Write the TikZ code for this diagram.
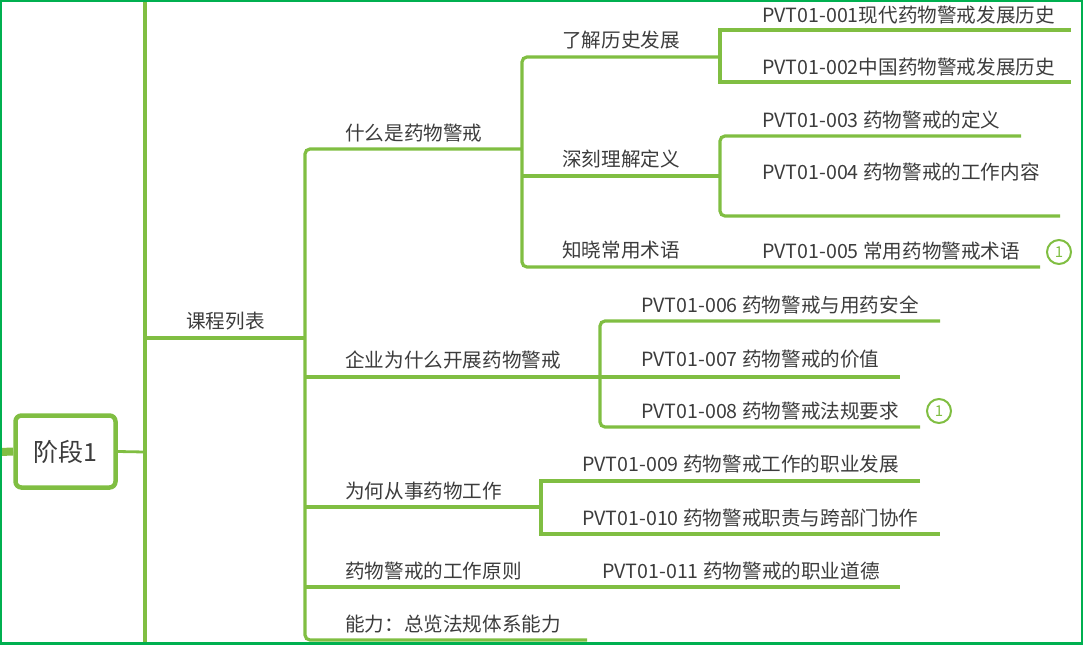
\documentclass[tikz,border=0pt]{standalone}
\usepackage{fontspec}
\setmainfont{Noto Sans CJK SC}
\definecolor{lg}{RGB}{128,190,66}
\definecolor{framec}{RGB}{0,176,80}
\definecolor{txt}{RGB}{60,60,60}
\begin{document}
\begin{tikzpicture}[x=1pt,y=-1pt,
  lbl/.style={anchor=base west, inner sep=0pt, text=txt, font=\fontsize{19.6}{23}\selectfont},
  conn/.style={draw=lg, line width=3.2pt, rounded corners=5pt},
  sq/.style={draw=lg, line width=3.2pt, rounded corners=0pt},
  badge/.style={circle, draw=lg, line width=2pt, minimum size=24pt, inner sep=0pt, text=lg, font=\fontsize{15}{15}\selectfont},
  rootbox/.style={draw=lg, line width=4.5pt, rounded corners=6pt, minimum width=100pt, minimum height=72pt, text=txt, font=\fontsize{25}{28}\selectfont, inner sep=0pt}]
\useasboundingbox (0,0) rectangle (1084,645);

% root
\node[rootbox] (root) at (65.5,451.5) {阶段1};
\coordinate (stub) at (0,452);
\draw[lg, line width=8pt] (stub) -- (root.west);
\coordinate (spineTop) at (145,-5);
\coordinate (spineBot) at (145,650);
\coordinate (spineMid) at (145,452);
\draw[conn] (spineTop) -- (spineBot);
\draw[conn, line width=2.8pt] (root.east) -- (spineMid);

% level 1
\node[lbl] (kc) at (186,328) {课程列表};
\coordinate (kcS) at (145,338);
\coordinate (kcE) at (305,338);
\draw[conn] (kcS) -- (kcE);

% level 2
\node[lbl] (t1) at (345,140) {什么是药物警戒};
\node[lbl] (t2) at (345,367) {企业为什么开展药物警戒};
\node[lbl] (t3) at (345,498) {为何从事药物工作};
\node[lbl] (t4) at (345,578) {药物警戒的工作原则};
\node[lbl] (t5) at (345,631) {能力：总览法规体系能力};
\coordinate (a1) at (522,149);
\coordinate (a2) at (600,377);
\coordinate (a3) at (541,507);
\coordinate (a4) at (900,587);
\coordinate (a5) at (587,640);
\draw[conn] (a1) -| (kcE) |- (a5);
\draw[conn] (kcE |- a2) -- (a2);
\draw[conn] (kcE |- a3) -- (a3);
\draw[conn] (kcE |- a4) -- (a4);

% level 3 under t1
\node[lbl] (s1) at (562,47) {了解历史发展};
\node[lbl] (s2) at (562,166) {深刻理解定义};
\node[lbl] (s3) at (562,257) {知晓常用术语};
\coordinate (b1) at (720,57);
\coordinate (b2) at (720,176);
\coordinate (b3) at (1040,267);
\draw[conn] (b1) -| (a1) |- (b3);
\draw[conn] (a1 |- b2) -- (b2);

% leaves
\node[lbl] (p1) at (762,22.5) {PVT01-001现代药物警戒发展历史};
\node[lbl] (p2) at (762,74.5) {PVT01-002中国药物警戒发展历史};
\coordinate (c1) at (1071,30);
\coordinate (c2) at (1071,82);
\draw[sq] (c1) -| (b1) |- (c2);

\node[lbl] (p3) at (762,127) {PVT01-003 药物警戒的定义};
\node[lbl] (p4) at (762,179) {PVT01-004 药物警戒的工作内容};
\coordinate (d1) at (1021,136);
\coordinate (d2) at (1060,216);
\draw[conn] (d1) -| (b2) |- (d2);

\node[lbl] (p5) at (762,258) {PVT01-005 常用药物警戒术语};
\node[badge] (n5) at (1059,252) {1};

\node[lbl] (p6) at (641,312) {PVT01-006 药物警戒与用药安全};
\node[lbl] (p7) at (641,366) {PVT01-007 药物警戒的价值};
\node[lbl] (p8) at (641,418) {PVT01-008 药物警戒法规要求};
\node[badge] (n8) at (939,411) {1};
\coordinate (e1) at (940,321);
\coordinate (e2) at (900,377);
\coordinate (e3) at (920,427);
\draw[conn] (e1) -| (a2) |- (e3);
\draw[conn] (a2) -- (e2);

\node[lbl] (p9) at (582,471) {PVT01-009 药物警戒工作的职业发展};
\node[lbl] (p10) at (582,525) {PVT01-010 药物警戒职责与跨部门协作};
\coordinate (f1) at (920,481);
\coordinate (f2) at (940,534);
\draw[sq] (f1) -| (a3) |- (f2);

\node[lbl] (p11) at (602,578) {PVT01-011 药物警戒的职业道德};

% frame
\draw[framec, line width=2.5pt] (1.2,1.2) rectangle (1081.8,643.5);
\end{tikzpicture}
\end{document}
